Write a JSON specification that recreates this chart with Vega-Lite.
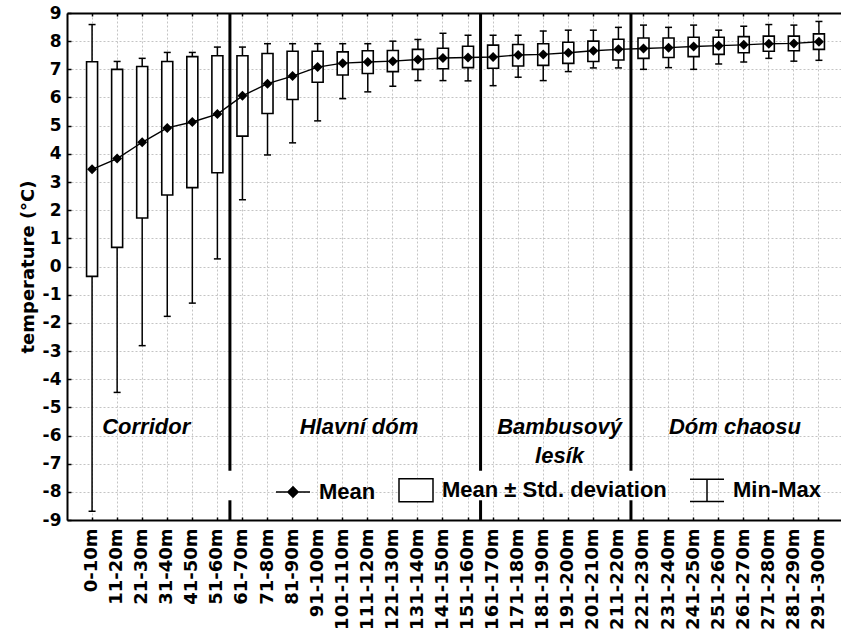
{
  "$schema": "https://vega.github.io/schema/vega-lite/v6.json",
  "width": 774,
  "height": 507,
  "autosize": "none",
  "padding": {"left": 67, "top": 13, "right": 0, "bottom": 114},
  "background": "white",
  "config": {
    "view": {"stroke": null},
    "axisY": {
      "tickCount": 20, "labelOverlap": false, "labelFlush": false,
      "labelExpr": "datum.value + ''",
      "grid": true, "gridDash": [2, 2], "gridColor": "#c4c4c4", "gridWidth": 1,
      "ticks": true, "tickSize": -4, "tickColor": "black", "tickWidth": 1.5,
      "domain": true, "domainColor": "black", "domainWidth": 2,
      "labelFont": "DejaVu Sans", "labelFontWeight": "bold", "labelFontSize": 17,
      "labelColor": "black", "labelPadding": 10,
      "titleFont": "DejaVu Sans", "titleFontWeight": "bold", "titleFontSize": 18,
      "titleColor": "black", "titlePadding": 5
    }
  },
  "datasets": {
    "stats": [
      {"cat": "0-10m", "min": -8.69, "lo": -0.35, "mean": 3.45, "hi": 7.27, "max": 8.59},
      {"cat": "11-20m", "min": -4.47, "lo": 0.68, "mean": 3.83, "hi": 7.0, "max": 7.28},
      {"cat": "21-30m", "min": -2.81, "lo": 1.72, "mean": 4.41, "hi": 7.1, "max": 7.39},
      {"cat": "31-40m", "min": -1.77, "lo": 2.54, "mean": 4.92, "hi": 7.28, "max": 7.6},
      {"cat": "41-50m", "min": -1.3, "lo": 2.8, "mean": 5.13, "hi": 7.45, "max": 7.6},
      {"cat": "51-60m", "min": 0.27, "lo": 3.33, "mean": 5.41, "hi": 7.48, "max": 7.79},
      {"cat": "61-70m", "min": 2.37, "lo": 4.63, "mean": 6.06, "hi": 7.48, "max": 7.79},
      {"cat": "71-80m", "min": 3.96, "lo": 5.43, "mean": 6.49, "hi": 7.56, "max": 7.91},
      {"cat": "81-90m", "min": 4.39, "lo": 5.93, "mean": 6.76, "hi": 7.64, "max": 7.91},
      {"cat": "91-100m", "min": 5.17, "lo": 6.54, "mean": 7.08, "hi": 7.64, "max": 7.91},
      {"cat": "101-110m", "min": 5.96, "lo": 6.8, "mean": 7.22, "hi": 7.62, "max": 7.91},
      {"cat": "111-120m", "min": 6.2, "lo": 6.85, "mean": 7.26, "hi": 7.66, "max": 7.91},
      {"cat": "121-130m", "min": 6.4, "lo": 6.92, "mean": 7.29, "hi": 7.67, "max": 8.0},
      {"cat": "131-140m", "min": 6.6, "lo": 7.0, "mean": 7.35, "hi": 7.71, "max": 8.06},
      {"cat": "141-150m", "min": 6.6, "lo": 7.02, "mean": 7.4, "hi": 7.75, "max": 8.28},
      {"cat": "151-160m", "min": 6.59, "lo": 7.06, "mean": 7.42, "hi": 7.82, "max": 8.21},
      {"cat": "161-170m", "min": 6.42, "lo": 7.04, "mean": 7.44, "hi": 7.86, "max": 8.21},
      {"cat": "171-180m", "min": 6.72, "lo": 7.12, "mean": 7.51, "hi": 7.88, "max": 8.21},
      {"cat": "181-190m", "min": 6.6, "lo": 7.14, "mean": 7.53, "hi": 7.91, "max": 8.36},
      {"cat": "191-200m", "min": 6.92, "lo": 7.21, "mean": 7.59, "hi": 7.96, "max": 8.39},
      {"cat": "201-210m", "min": 7.05, "lo": 7.28, "mean": 7.66, "hi": 8.0, "max": 8.39},
      {"cat": "211-220m", "min": 7.05, "lo": 7.33, "mean": 7.71, "hi": 8.07, "max": 8.49},
      {"cat": "221-230m", "min": 7.0, "lo": 7.39, "mean": 7.74, "hi": 8.11, "max": 8.57},
      {"cat": "231-240m", "min": 7.06, "lo": 7.42, "mean": 7.77, "hi": 8.11, "max": 8.49},
      {"cat": "241-250m", "min": 7.0, "lo": 7.45, "mean": 7.81, "hi": 8.14, "max": 8.57},
      {"cat": "251-260m", "min": 7.19, "lo": 7.53, "mean": 7.84, "hi": 8.14, "max": 8.39},
      {"cat": "261-270m", "min": 7.26, "lo": 7.59, "mean": 7.87, "hi": 8.16, "max": 8.53},
      {"cat": "271-280m", "min": 7.39, "lo": 7.64, "mean": 7.91, "hi": 8.18, "max": 8.59},
      {"cat": "281-290m", "min": 7.29, "lo": 7.66, "mean": 7.92, "hi": 8.18, "max": 8.57},
      {"cat": "291-300m", "min": 7.32, "lo": 7.71, "mean": 7.98, "hi": 8.26, "max": 8.7}
    ],
    "separators": [
      {"cat": "61-70m", "top": 9, "bottom": -7.25},
      {"cat": "61-70m", "top": -8.3, "bottom": -9},
      {"cat": "161-170m", "top": 9, "bottom": -7.25},
      {"cat": "161-170m", "top": -8.3, "bottom": -9},
      {"cat": "221-230m", "top": 9, "bottom": -7.25},
      {"cat": "221-230m", "top": -8.3, "bottom": -9}
    ],
    "regionsA": [
      {"cat": "21-30m", "y": -5.95, "label": "Corridor"}
    ],
    "regionsB": [
      {"cat": "111-120m", "y": -5.95, "label": "Hlavní dóm"},
      {"cat": "191-200m", "y": -5.95, "label": "Bambusový\nlesík"},
      {"cat": "261-270m", "y": -5.95, "label": "Dóm chaosu"}
    ],
    "legenditems": [
      {"item": "Mean"},
      {"item": "Mean ± Std. deviation"},
      {"item": "Min-Max"}
    ]
  },
  "layer": [
    {
      "data": {"name": "separators"},
      "mark": {"type": "rule", "strokeWidth": 3, "color": "black"},
      "encoding": {
        "x": {
          "field": "cat", "type": "nominal", "bandPosition": 0, "axis": null,
          "scale": {
            "domain": ["0-10m","11-20m","21-30m","31-40m","41-50m","51-60m","61-70m","71-80m","81-90m","91-100m","101-110m","111-120m","121-130m","131-140m","141-150m","151-160m","161-170m","171-180m","181-190m","191-200m","201-210m","211-220m","221-230m","231-240m","241-250m","251-260m","261-270m","271-280m","281-290m","291-300m"],
            "paddingInner": 0, "paddingOuter": 0.5, "range": [0, 777]
          }
        },
        "y": {
          "field": "top", "type": "quantitative",
          "scale": {"domain": [-9, 9], "nice": false, "zero": false},
          "axis": {
            "title": "temperature (°C)", "tickCount": 20,
            "values": [-9,-8,-7,-6,-5,-4,-3,-2,-1,0,1,2,3,4,5,6,7,8,9]
          }
        },
        "y2": {"field": "bottom"}
      }
    },
    {
      "data": {"name": "stats"},
      "mark": {"type": "rule", "strokeWidth": 1.5, "color": "black"},
      "encoding": {
        "x": {"field": "cat", "type": "nominal", "axis": null},
        "y": {"field": "min", "type": "quantitative"},
        "y2": {"field": "max"}
      }
    },
    {
      "data": {"name": "stats"},
      "mark": {"type": "tick", "size": 7, "thickness": 1.5, "color": "black", "opacity": 1},
      "encoding": {
        "x": {"field": "cat", "type": "nominal", "axis": null},
        "y": {"field": "min", "type": "quantitative"}
      }
    },
    {
      "data": {"name": "stats"},
      "mark": {"type": "tick", "size": 7, "thickness": 1.5, "color": "black", "opacity": 1},
      "encoding": {
        "x": {"field": "cat", "type": "nominal", "axis": null},
        "y": {"field": "max", "type": "quantitative"}
      }
    },
    {
      "data": {"name": "stats"},
      "mark": {"type": "bar", "size": 11, "fill": "white", "stroke": "black", "strokeWidth": 1.6},
      "encoding": {
        "x": {
          "field": "cat", "type": "nominal",
          "axis": {
            "orient": "bottom", "title": null, "labelAngle": -90, "bandPosition": 0.5,
            "grid": true, "gridDash": [2, 2], "gridColor": "#c4c4c4", "gridWidth": 1,
            "ticks": true, "tickSize": -3, "tickColor": "black", "tickWidth": 1.5,
            "domain": true, "domainColor": "black", "domainWidth": 2,
            "labelFont": "DejaVu Sans", "labelFontWeight": "bold", "labelFontSize": 18,
            "labelColor": "black", "labelPadding": 11, "labelOverlap": false, "labelLimit": 200
          }
        },
        "y": {"field": "hi", "type": "quantitative"},
        "y2": {"field": "lo"}
      }
    },
    {
      "data": {"name": "stats"},
      "mark": {"type": "line", "strokeWidth": 1.4, "color": "black"},
      "encoding": {
        "x": {
          "field": "cat", "type": "nominal",
          "axis": {
            "orient": "top", "title": null, "labels": false, "grid": false, "bandPosition": 0.5,
            "ticks": true, "tickSize": -3, "tickColor": "black", "tickWidth": 1.5,
            "domain": true, "domainColor": "black", "domainWidth": 2
          }
        },
        "y": {"field": "mean", "type": "quantitative"}
      }
    },
    {
      "data": {"name": "stats"},
      "mark": {"type": "point", "shape": "diamond", "filled": true, "size": 100, "color": "black", "opacity": 1},
      "encoding": {
        "x": {"field": "cat", "type": "nominal", "axis": null},
        "y": {"field": "mean", "type": "quantitative"}
      }
    },
    {
      "data": {"name": "regionsA"},
      "mark": {"type": "text", "font": "Liberation Sans", "fontSize": 22, "fontWeight": "bold", "fontStyle": "italic", "align": "center", "baseline": "alphabetic", "color": "black"},
      "encoding": {
        "x": {"field": "cat", "type": "nominal", "bandPosition": 0.66, "axis": null},
        "y": {"field": "y", "type": "quantitative"},
        "text": {"field": "label"}
      }
    },
    {
      "data": {"name": "regionsB"},
      "mark": {"type": "text", "font": "Liberation Sans", "fontSize": 22, "fontWeight": "bold", "fontStyle": "italic", "align": "center", "baseline": "alphabetic", "color": "black", "lineBreak": "\n", "lineHeight": 29},
      "encoding": {
        "x": {"field": "cat", "type": "nominal", "bandPosition": 0.15, "axis": null},
        "y": {"field": "y", "type": "quantitative"},
        "text": {"field": "label"}
      }
    },
    {
      "data": {"name": "legenditems"},
      "mark": {"type": "point", "opacity": 0, "filled": true, "stroke": "black", "strokeWidth": 1.5},
      "encoding": {
        "shape": {
          "field": "item", "type": "nominal",
          "scale": {
            "domain": ["Mean", "Mean ± Std. deviation", "Min-Max"],
            "range": ["M-1,0L1,0M0,-0.3L0.3,0L0,0.3L-0.3,0Z", "M-1,-0.68L1,-0.68L1,0.68L-1,0.68Z", "M-1,-0.66L1,-0.66M0,-0.66L0,0.66M-1,0.66L1,0.66"]
          },
          "legend": {
            "title": null, "orient": "none", "legendX": 208, "legendY": 459, "direction": "horizontal",
            "symbolSize": 1156, "symbolStrokeColor": "black", "symbolStrokeWidth": 1.5, "symbolOpacity": 1,
            "labelFont": "Liberation Sans", "labelFontSize": 22, "labelFontWeight": "bold", "labelColor": "black",
            "labelOffset": 8, "columnPadding": 20, "padding": 0, "labelLimit": 400,
            "encode": {"symbols": {"update": {"stroke": {"value": "black"}, "strokeWidth": {"value": 1.5}, "opacity": {"value": 1}}}}
          }
        },
        "fill": {
          "field": "item", "type": "nominal",
          "scale": {"domain": ["Mean", "Mean ± Std. deviation", "Min-Max"], "range": ["black", "white", "white"]},
          "legend": {
            "title": null, "orient": "none", "legendX": 208, "legendY": 459, "direction": "horizontal",
            "symbolSize": 1156, "symbolStrokeColor": "black", "symbolStrokeWidth": 1.5, "symbolOpacity": 1,
            "labelFont": "Liberation Sans", "labelFontSize": 22, "labelFontWeight": "bold", "labelColor": "black",
            "labelOffset": 8, "columnPadding": 20, "padding": 0, "labelLimit": 400,
            "encode": {"symbols": {"update": {"stroke": {"value": "black"}, "strokeWidth": {"value": 1.5}, "opacity": {"value": 1}}}}
          }
        }
      }
    }
  ],
  "resolve": {"axis": {"x": "independent"}}
}
